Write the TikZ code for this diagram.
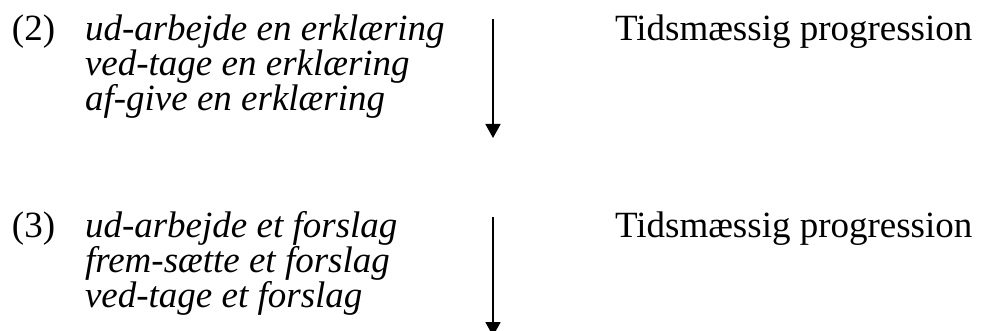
\documentclass[tikz,border=0pt]{standalone}
\usepackage{fontspec}
\setmainfont{Liberation Serif}
\usetikzlibrary{arrows.meta}
\tikzset{
  txt/.style={anchor=base west, inner sep=0pt, outer sep=0pt, font=\fontsize{37}{35}\selectfont},
  ex/.style={txt, font=\fontsize{37}{35}\selectfont\itshape},
  arr/.style={line width=1.8pt, -{Triangle[length=14pt,width=15pt]}}
}
\begin{document}
\begin{tikzpicture}[x=1pt,y=-1pt]
\useasboundingbox (0,0) rectangle (981,331);
% group (2)
\node[txt] (n2) at (12,41) {(2)};
\node[ex] (l21) at (85,41) {ud-arbejde en erklæring};
\node[ex] (l22) at (85,76) {ved-tage en erklæring};
\node[ex] (l23) at (85,111) {af-give en erklæring};
\coordinate (a1s) at (493,19);
\coordinate (a1e) at (493,138);
\draw[arr] (a1s) -- (a1e);
\node[txt] (t1) at (615,41) {Tidsmæssig progression};
% group (3)
\node[txt] (n3) at (12,237) {(3)};
\node[ex] (l31) at (85,237) {ud-arbejde et forslag};
\node[ex] (l32) at (85,272) {frem-sætte et forslag};
\node[ex] (l33) at (85,307) {ved-tage et forslag};
\coordinate (a2s) at (493,217);
\coordinate (a2e) at (493,336);
\draw[arr] (a2s) -- (a2e);
\node[txt] (t2) at (615,237) {Tidsmæssig progression};
\end{tikzpicture}
\end{document}
